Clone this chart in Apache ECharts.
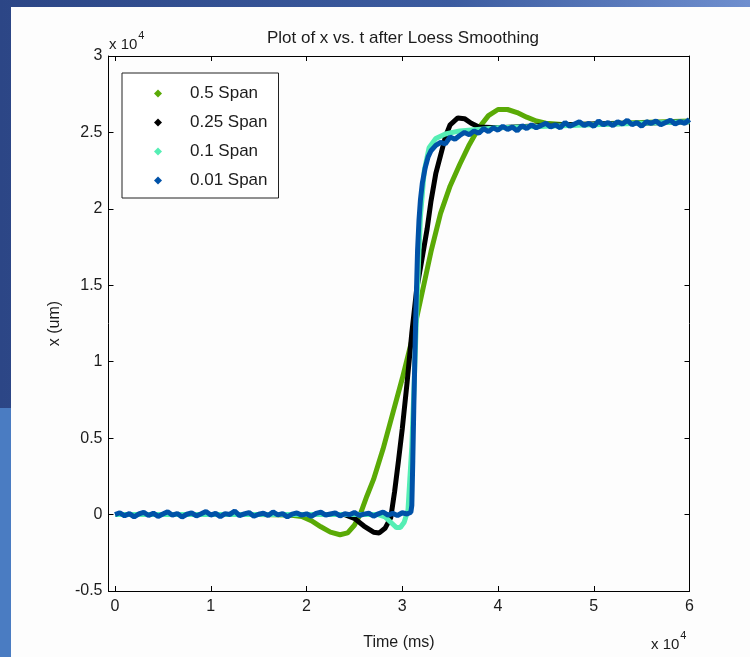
<!DOCTYPE html>
<html>
<head>
<meta charset="utf-8">
<script src="https://cdn.jsdelivr.net/npm/echarts@6/dist/echarts.min.js"></script>
<style>
  html, body { margin: 0; padding: 0; }
  body {
    width: 750px; height: 657px; position: relative; overflow: hidden;
    background: linear-gradient(90deg, #2c4686 0%, #3c5ca0 60%, #6f8fcf 100%);
  }
  #strip { position: absolute; left: 0; top: 408px; width: 11px; height: 249px; background: #4a7cc2; }
  #paper { position: absolute; left: 11px; top: 7px; right: 0; bottom: 0; background: #fdfdfd; }
  #chart { position: absolute; left: 0; top: 0; width: 750px; height: 657px; }
</style>
</head>
<body>
<div id="strip"></div>
<div id="paper"></div>
<div id="chart"></div>
<script>
// 0.5 span (green)
var tGreen = [0, 5000, 10000, 15000, 18000, 19500, 20500, 21500, 22500, 23500, 24300, 25000, 25600, 26300, 27000,
  28000, 29000, 30000, 31000, 32000, 33000, 34000, 35000, 36000, 37000, 38000, 39000, 40000, 41000, 42000,
  43000, 44000, 45000, 47000, 50000, 55000, 60000];
var xGreen = [0, 0, 0, 0, -20, -120, -400, -800, -1150, -1320, -1200, -700, 0, 1200, 2300,
  4300, 6600, 8900, 11400, 14300, 17200, 19700, 21500, 22900, 24200, 25300, 26100, 26500, 26500, 26300,
  26000, 25750, 25600, 25500, 25550, 25650, 25750];

// 0.25 span (black)
var tBlack = [0, 10000, 20000, 24000, 25000, 26000, 27000, 27600, 28200, 28800, 29200, 29600, 30000, 30500,
  31000, 31500, 32000, 32600, 33000, 33500, 34000, 34500, 35000, 35800, 36500, 37200, 38000, 40000,
  45000, 50000, 55000, 60000];
var xBlack = [0, 0, 0, 0, -250, -750, -1150, -1200, -900, -200, 1500, 3500, 5600, 8600,
  11900, 14700, 16500, 18700, 20500, 22300, 23500, 24700, 25500, 25950, 25900, 25600, 25350, 25300,
  25450, 25550, 25600, 25700];

// 0.1 span (aquamarine)
var tAqua = [0, 10000, 20000, 27500, 28200, 28800, 29400, 29800, 30200, 30600, 31000, 31300, 31600, 31900,
  32300, 32800, 33500, 34500, 36000, 40000, 50000, 60000];
var xAqua = [0, 0, 0, 0, -150, -500, -850, -850, -500, 300, 4500, 9500, 15000, 19500,
  22500, 24000, 24600, 24900, 25100, 25300, 25500, 25700];

// 0.01 span (blue, noisy)
var tBlue = [0, 500, 1000, 1500, 2000, 2500, 3000, 3500, 4000, 4500, 5000, 5500, 6000, 6500, 7000, 7500,
  8000, 8500, 9000, 9500, 10000, 10500, 11000, 11500, 12000, 12500, 13000, 13500, 14000, 14500, 15000,
  15500, 16000, 16500, 17000, 17500, 18000, 18500, 19000, 19500, 20000, 20500, 21000, 21500, 22000,
  22500, 23000, 23500, 24000, 24500, 25000, 25500, 26000, 26500, 27000, 27500, 28000, 28500, 29000,
  29500, 30000, 30500, 30900,
  31000, 31100, 31200, 31300, 31400, 31500, 31600, 31750, 31900, 32100, 32400, 32700, 33000,
  33500, 34000, 34500, 35000, 35500, 36000, 36500, 37000, 37500, 38000, 38500, 39000, 39500, 40000,
  40500, 41000, 41500, 42000, 42500, 43000, 43500, 44000, 44500, 45000, 45500, 46000, 46500, 47000,
  47500, 48000, 48500, 49000, 49500, 50000, 50500, 51000, 51500, 52000, 52500, 53000, 53500, 54000,
  54500, 55000, 55500, 56000, 56500, 57000, 57500, 58000, 58500, 59000, 59500, 60000];
var xBlue = [0, 120, -80, 60, -150, 40, 150, -60, 90, -120, 30, 180, -40, 70, -160, 20,
  110, -90, 50, 200, -30, 80, -140, 60, 10, 230, -70, 40, 130, -110, 20,
  90, -60, 170, -20, 60, -150, 30, 110, -40, 50, -120, 80, 160, -30,
  40, 110, -90, 60, -10, 140, -60, 30, 90, -110, 50, 170, -40, 80,
  -60, 120, 40, 150,
  600, 3500, 6800, 9800, 12600, 15000, 17300, 19300, 20600, 21700, 22700, 23400, 23800,
  24150, 24350, 24250, 24700, 24550, 24800, 25000, 24850, 25100, 24950, 25250, 25050, 25300, 25150,
  25400, 25200, 25350, 25100, 25450, 25250, 25500, 25300, 25450, 25600, 25350, 25500, 25300, 25650,
  25400, 25550, 25700, 25450, 25600, 25400, 25750, 25500, 25650, 25450, 25700, 25550, 25800, 25500,
  25650, 25400, 25700, 25600, 25750, 25500, 25650, 25800, 25550, 25700, 25600, 25850];

var xTicks = [0, 10000, 20000, 30000, 40000, 50000, 60000];

function pairs(ts, vs) {
  return ts.map(function (t, i) { return [t, vs[i]]; });
}

var font = 'Liberation Sans, Arial, sans-serif';
var ink = '#1c1c1c';

var chart = echarts.init(document.getElementById('chart'), null, { renderer: 'canvas' });

function mkSeries(name, ts, vs, color) {
  return {
    name: name,
    type: 'line',
    data: pairs(ts, vs),
    showSymbol: false,
    symbol: 'diamond',
    lineStyle: { width: 5, color: color },
    itemStyle: { color: color },
    animation: false
  };
}

var axisLine = { show: true, onZero: false, lineStyle: { color: '#000', width: 1 } };

chart.setOption({
  backgroundColor: 'transparent',
  animation: false,
  title: {
    text: 'Plot of x vs. t after Loess Smoothing',
    left: 398,
    top: 25,
    textAlign: 'center',
    textStyle: { fontFamily: font, fontSize: 17, fontWeight: 'normal', color: ink }
  },
  grid: { left: 108.5, right: 60.5, top: 56, bottom: 66 },
  legend: {
    orient: 'vertical',
    left: 122,
    top: 73,
    data: [
      { name: '0.5 Span', icon: 'diamond' },
      { name: '0.25 Span', icon: 'diamond' },
      { name: '0.1 Span', icon: 'diamond' },
      { name: '0.01 Span', icon: 'diamond' }
    ],
    itemWidth: 8,
    itemHeight: 8,
    itemGap: 12,
    padding: [12, 11, 9, 32],
    borderColor: '#222',
    borderWidth: 1,
    backgroundColor: '#fff',
    textStyle: { fontFamily: font, fontSize: 17, lineHeight: 17, color: ink, padding: [0, 0, 0, 23] }
  },
  xAxis: [{
    type: 'value',
    min: -680,
    max: 60000,
    name: 'Time (ms)',
    nameLocation: 'middle',
    nameGap: 44,
    nameTextStyle: { fontFamily: font, fontSize: 16, color: ink },
    axisLine: axisLine,
    axisTick: { inside: true, length: 5, customValues: xTicks, lineStyle: { color: '#000' } },
    axisLabel: {
      customValues: xTicks, margin: 8,
      fontFamily: font, fontSize: 16, color: ink,
      formatter: function (v) { return String(v / 10000); }
    },
    splitLine: { show: false }
  }, {
    type: 'value',
    position: 'top',
    min: -680,
    max: 60000,
    axisLine: axisLine,
    axisTick: { inside: true, length: 5, customValues: xTicks, lineStyle: { color: '#000' } },
    axisLabel: { show: false },
    splitLine: { show: false }
  }],
  yAxis: [{
    type: 'value',
    min: -5000,
    max: 30000,
    interval: 5000,
    name: 'x (um)',
    nameLocation: 'middle',
    nameGap: 46,
    nameTextStyle: { fontFamily: font, fontSize: 16, color: ink },
    axisLine: axisLine,
    axisTick: { show: true, inside: true, length: 5, lineStyle: { color: '#000' } },
    axisLabel: {
      margin: 6, fontFamily: font, fontSize: 16, color: ink,
      formatter: function (v) { return String(v / 10000); }
    },
    splitLine: { show: false }
  }, {
    type: 'value',
    position: 'right',
    min: -5000,
    max: 30000,
    interval: 5000,
    axisLine: axisLine,
    axisTick: { show: true, inside: true, length: 5, lineStyle: { color: '#000' } },
    axisLabel: { show: false },
    splitLine: { show: false }
  }],
  graphic: [{
    type: 'text',
    left: 109,
    top: 30,
    style: {
      text: '{b|x 10}{s|4}',
      rich: {
        b: { fontFamily: font, fontSize: 15, fill: ink, padding: [10, 0, 0, 0] },
        s: { fontFamily: font, fontSize: 11, fill: ink, padding: [0, 0, 8, 1] }
      }
    }
  }, {
    type: 'text',
    left: 651,
    top: 630,
    style: {
      text: '{b|x 10}{s|4}',
      rich: {
        b: { fontFamily: font, fontSize: 15, fill: ink, padding: [10, 0, 0, 0] },
        s: { fontFamily: font, fontSize: 11, fill: ink, padding: [0, 0, 8, 1] }
      }
    }
  }],
  series: [
    mkSeries('0.5 Span', tGreen, xGreen, '#5aaa06'),
    mkSeries('0.25 Span', tBlack, xBlack, '#000000'),
    mkSeries('0.1 Span', tAqua, xAqua, '#55eeb4'),
    mkSeries('0.01 Span', tBlue, xBlue, '#0052a8')
  ]
});

window.addEventListener('resize', function () { chart.resize(); });
</script>
</body>
</html>
